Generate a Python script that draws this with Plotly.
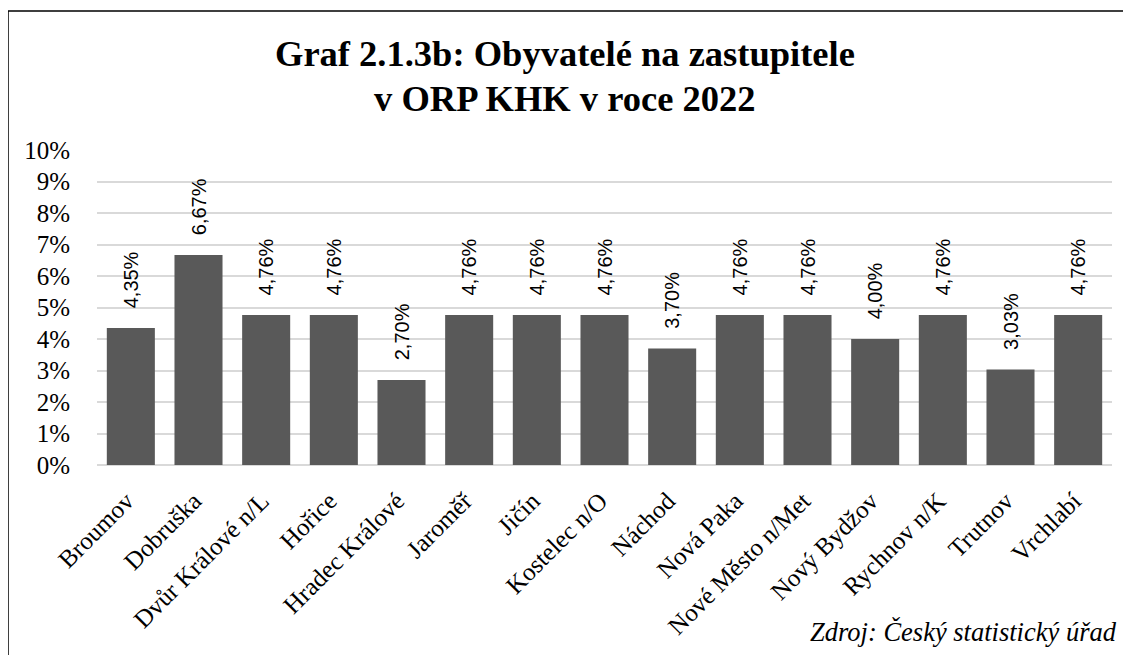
import plotly.graph_objects as go

categories = ["Broumov", "Dobruška", "Dvůr Králové n/L", "Hořice", "Hradec Králové",
              "Jaroměř", "Jičín", "Kostelec n/O", "Náchod", "Nová Paka",
              "Nové Město n/Met", "Nový Bydžov", "Rychnov n/K", "Trutnov", "Vrchlabí"]
values = [4.35, 6.67, 4.76, 4.76, 2.70, 4.76, 4.76, 4.76, 3.70, 4.76, 4.76, 4.00, 4.76, 3.03, 4.76]
y_ticks = list(range(0, 11))
y_tick_text = [f"{v}%" for v in y_ticks]

labels = ["\u00a0\u00a0\u00a0" + f"{v:.2f}".replace(".", ",") + "%" for v in values]
x_tick_text = [c + "\u00a0" for c in categories]

# page body has an 8px margin, so figure coords = screen coords - 8
OFF = 8
W, H = 1131 - OFF, 655 - OFF
L = 97 - OFF
R = W - (1112 - OFF)
T = 150 - OFF
B = H - (465 - OFF)
pw, ph = W - L - R, H - T - B

SERIF = "Liberation Serif"

fig = go.Figure(go.Bar(
    x=categories, y=values, text=labels, textposition="outside", textangle=-90,
    constraintext="none",
    textfont=dict(family="Liberation Sans", size=20, color="#000000"),
    marker=dict(color="#595959", line=dict(width=0)),
    width=0.71, cliponaxis=False,
))

fig.update_layout(
    width=W, height=H,
    margin=dict(l=L, r=R, t=T, b=B),
    paper_bgcolor="white", plot_bgcolor="white",
    font=dict(family=SERIF, color="#000000"),
    xaxis=dict(tickangle=-45, tickfont=dict(size=25, family=SERIF), showgrid=False, showline=False,
               ticks="", range=[-0.5, 14.5], ticklabelstandoff=11,
               tickmode="array", tickvals=categories, ticktext=x_tick_text),
    yaxis=dict(range=[0, 10], tickmode="array", tickvals=y_ticks, ticktext=y_tick_text,
               tickfont=dict(size=25, family=SERIF),
               showgrid=True, gridcolor="#d9d9d9", gridwidth=1.5, zeroline=True,
               zerolinecolor="#d9d9d9", zerolinewidth=1.5, ticks="", showline=False,
               ticklabelstandoff=26),
    showlegend=False,
)

def fx(px):
    return (px - OFF - L) / pw

def fy(py):
    return (H - (py - OFF) - B) / ph

fig.add_shape(type="rect", xref="paper", yref="paper",
              x0=fx(8), x1=fx(1127), y0=fy(680), y1=fy(11),
              line=dict(color="#000000", width=1.5), fillcolor="rgba(0,0,0,0)", layer="above")

title_lines = ["Graf 2.1.3b: Obyvatelé na zastupitele", "v ORP KHK v roce 2022"]
for line, cy in zip(title_lines, [54, 99]):
    fig.add_annotation(text=f"<b>{line}</b>", xref="paper", yref="paper",
                       x=fx(565), y=fy(cy), xanchor="center", yanchor="middle",
                       showarrow=False, font=dict(size=36.5, family=SERIF, color="#000000"))

fig.add_annotation(text="<i>Zdroj: Český statistický úřad</i>", xref="paper", yref="paper",
                   x=fx(1119), y=fy(632), xanchor="right", yanchor="middle",
                   showarrow=False, font=dict(size=26.5, family=SERIF, color="#000000"))

fig.write_html("out.html")
